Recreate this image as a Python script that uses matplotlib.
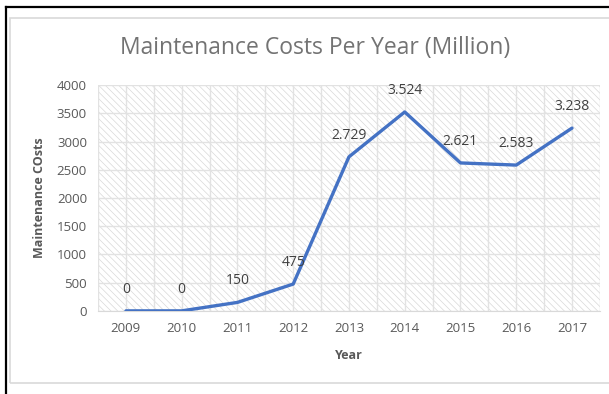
import matplotlib
matplotlib.use("Agg")
import matplotlib.pyplot as plt
from matplotlib.patches import Rectangle
from matplotlib.lines import Line2D

years = ["2009", "2010", "2011", "2012", "2013", "2014", "2015", "2016", "2017"]
costs = [0, 0, 150, 475, 2729, 3524, 2621, 2583, 3238]
point_labels = ["0", "0", "150", "475", "2.729", "3.524", "2.621", "2.583", "3.238"]
y_ticks = [0, 500, 1000, 1500, 2000, 2500, 3000, 3500, 4000]

plt.rcParams['font.family'] = ['Open Sans', 'DejaVu Sans']
plt.rcParams['hatch.linewidth'] = 0.5
plt.rcParams['hatch.color'] = '#d8d8d8'

fig = plt.figure(figsize=(6.09, 3.94), dpi=100)
ax = fig.add_axes([0.161, 0.211, 0.824, 0.573])

x = list(range(len(years)))
ax.add_patch(Rectangle((0, 0), 1, 1, transform=ax.transAxes, facecolor='white',
                       edgecolor='#d8d8d8', hatch='\\\\\\\\\\', linewidth=0, zorder=0))
ax.plot(x, costs, color='#4472C4', linewidth=2.4, zorder=3, solid_capstyle='round')

for xi, yi, lab in zip(x, costs, point_labels):
    ax.annotate(lab, (xi, yi), xytext=(0, 14), textcoords='offset pixels',
                ha='center', va='bottom', fontsize=10, color='#404040', zorder=4)

ax.set_xlim(-0.5, len(years) - 0.5)
ax.set_ylim(0, 4000)
ax.set_xticks(x)
ax.set_xticklabels(years)
ax.set_yticks(y_ticks)
ax.set_xticks([i + 0.5 for i in range(-1, len(years))], minor=True)
ax.grid(True, which='both', color='#e2e2e2', linewidth=1.0, zorder=1)
ax.set_axisbelow(True)
ax.tick_params(axis='both', which='both', length=0, labelsize=9.5, colors='#595959', pad=8)

for side in ['top', 'right', 'left']:
    ax.spines[side].set_visible(False)
ax.spines['bottom'].set_color('#d9d9d9')

ax.set_xlabel("Year", fontsize=9, fontweight='bold', color='#595959', labelpad=10)
ax.set_ylabel("Maintenance COsts", fontsize=9, fontweight='bold', color='#595959', labelpad=8)
fig.text(0.517, 0.878, "Maintenance Costs Per Year (Million)", ha='center', va='center',
         fontsize=16.5, color='#737373')

# chart frame
fig.add_artist(Rectangle((10 / 609, 1 - 383 / 394), 1.0, (383 - 18) / 394,
                         transform=fig.transFigure, facecolor='none',
                         edgecolor='#d9d9d9', linewidth=1.2))
fig.add_artist(Line2D([6 / 609, 1], [1 - 7 / 394, 1 - 7 / 394], color='black', linewidth=1.6,
                      transform=fig.transFigure))
fig.add_artist(Line2D([6 / 609, 6 / 609], [0, 1 - 7 / 394], color='black', linewidth=1.6,
                      transform=fig.transFigure))

fig.savefig("out.png", dpi=100)
